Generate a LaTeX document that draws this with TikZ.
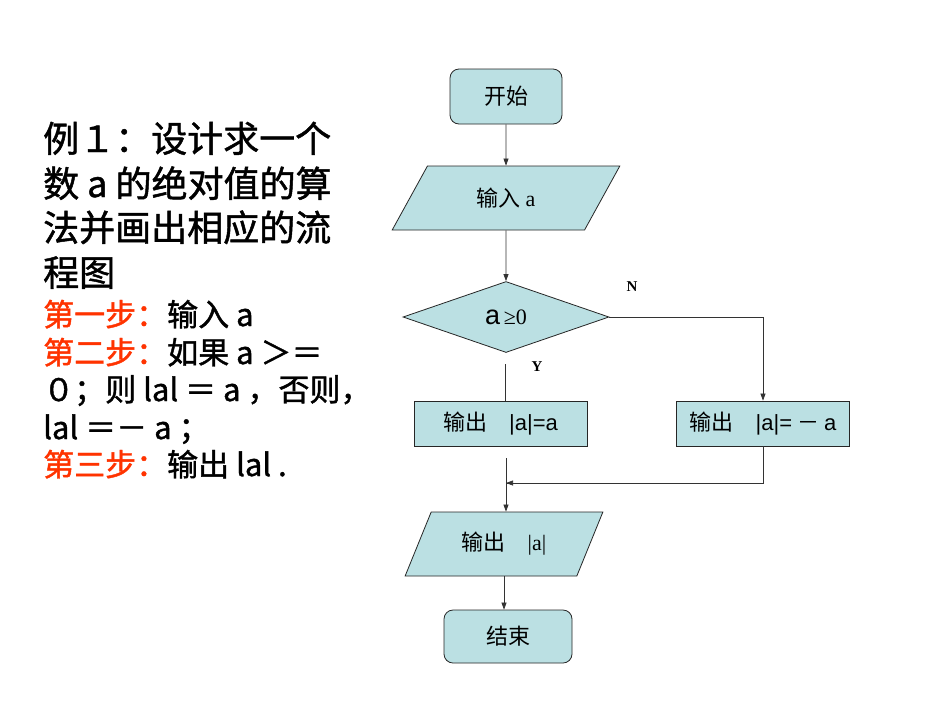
\documentclass[tikz,border=0pt]{standalone}
\usepackage{fontspec}
\usetikzlibrary{shapes.geometric,arrows.meta}
\setmainfont{Liberation Serif}
\newfontfamily\cjk{Noto Sans CJK SC}
\newfontfamily\cjkb{Noto Sans CJK SC}[FakeBold=1.3]
\newfontfamily\ars{Liberation Sans}
\definecolor{boxfill}{HTML}{BBE0E3}
\definecolor{stepred}{HTML}{FF3300}
\begin{document}
\begin{tikzpicture}[x=1pt,y=-1pt,
  box/.style={draw=black!85, fill=boxfill, line width=0.8pt, inner sep=0pt, font=\cjk\fontsize{22}{26}\selectfont},
  term/.style={box, rounded corners=9pt, minimum width=112pt, minimum height=55pt},
  proc/.style={box, minimum width=173pt, minimum height=45pt},
  io/.style={box, trapezium, trapezium left angle=57, trapezium right angle=123, trapezium stretches=true},
  dec/.style={box, diamond, minimum width=206pt, minimum height=71pt},
  conn/.style={draw=black!80, line width=0.7pt},
  arr/.style={conn, -{Triangle[length=7pt,width=5pt]}},
  lt/.style={anchor=base west, inner sep=0pt, font=\cjkb\fontsize{36}{40}\selectfont},
  ls/.style={anchor=base west, inner sep=0pt, font=\cjkb\fontsize{31}{36}\selectfont},
  lab/.style={font=\bfseries\fontsize{15}{17}\selectfont}
]
\useasboundingbox (0,0) rectangle (950,713);
\fill[white] (0,0) rectangle (950,713);

% left text
\node[lt] (t1) at (43,152) {例１：设计求一个};
\node[lt] (t2) at (43,197) {数 a 的绝对值的算};
\node[lt] (t3) at (43,241) {法并画出相应的流};
\node[lt] (t4) at (43,286) {程图};
\node[ls] (t5) at (43,326) {\textcolor{stepred}{第一步：}输入 a};
\node[ls] (t6) at (43,364) {\textcolor{stepred}{第二步：}如果 a ＞＝};
\node[ls] (t7) at (43,401) {０；则 lal ＝ a ，否则，};
\node[ls] (t8) at (43,439) {lal ＝－ a ；};
\node[ls] (t9) at (43,476) {\textcolor{stepred}{第三步：}输出 lal .};

% flowchart
\node[term] (start) at (506,96.5) {开始};
\node[io, minimum width=229pt, minimum height=64pt] (in) at (506,198) {输入 {\rmfamily a}};
\node[dec] (dec) at (506,317) {{\ars\fontsize{27}{27}\selectfont a}\,{\rmfamily\fontsize{22}{22}\selectfont ≥0}};
\node[proc] (left) at (500.5,423.5) {输出\quad{\ars |a|=a}};
\node[proc] (right) at (763,423.5) {输出\quad{\ars |a|=} － {\ars a}};
\node[io, minimum width=198pt, minimum height=64pt] (out) at (504,544) {输出\quad{\rmfamily |a|}};
\node[term, minimum width=128pt, minimum height=53pt] (end) at (508,636.5) {结束};

\node[lab] (N) at (632,287) {N};
\node[lab] (Y) at (537,367) {Y};

\coordinate (ys) at (505,364);
\coordinate (ls) at (506,458);
\coordinate (jn) at (506,483);

\draw[arr] (start.south) -- (in.north);
\draw[arr] (in.south) -- (dec.north);
\draw[arr] (dec.east) -| (right.north);
\draw[conn] (ys) -- (ys |- left.north);
\draw[conn] (right.south) |- (jn);
\draw[arr] (right.south |- jn) -- (jn);
\draw[arr] (ls) -- (ls |- out.north);
\draw[arr] (out.south) -- (out.south |- end.north);
\end{tikzpicture}
\end{document}
